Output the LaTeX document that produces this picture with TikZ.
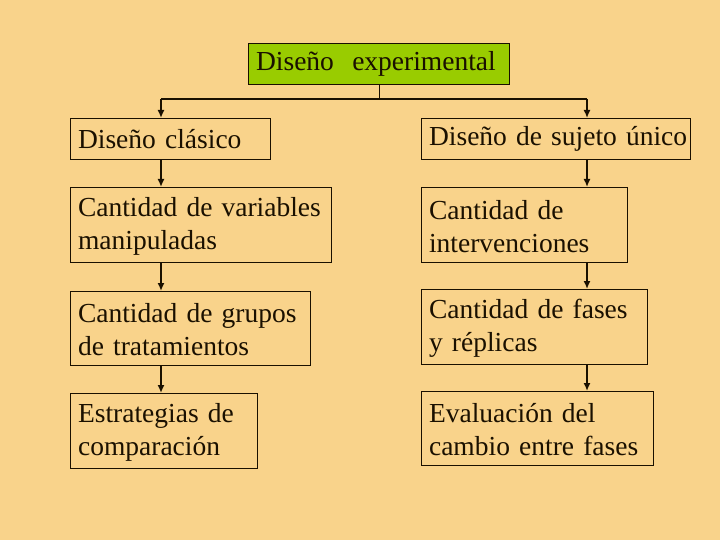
\documentclass[tikz,border=0pt]{standalone}
\usepackage{fontspec}
\setmainfont{Liberation Serif}
\usetikzlibrary{arrows.meta}
\definecolor{bg}{HTML}{F9D38B}
\definecolor{topgreen}{HTML}{99CC00}
\definecolor{ink}{HTML}{1A1000}
\tikzset{
  box/.style={draw=ink, line width=1.1pt, anchor=north west, inner xsep=7.5pt, inner ysep=0pt,
    align=left, text=ink, font=\fontsize{27.5}{33}\selectfont},
  arr/.style={draw=ink, line width=2pt, -{Latex[length=8pt,width=7pt]}},
  ln/.style={draw=ink, line width=1pt}
}
\hbadness=10000 \hfuzz=100pt
\newcommand{\bx}[7]{% name, x, y, w, h, text, extra
  \node[box, minimum width=#4pt, minimum height=#5pt, text width=#4pt-15pt, #7] (#1) at (#2,#3) {#6};}
\begin{document}
\begin{tikzpicture}[x=1pt,y=-1pt]
\useasboundingbox (0,0) rectangle (720,540);
\fill[bg] (0,0) rectangle (720,540);
\bx{top}{248}{43}{261}{41}{\mbox{Diseño\ \ experimental}}{fill=topgreen}
\bx{l1}{70}{118}{200}{41}{\mbox{Diseño clásico}}{}
\bx{l2}{70}{187}{261}{75}{\mbox{Cantidad de variables}\\\mbox{manipuladas}}{text height=22pt}
\bx{l3}{70}{291}{240}{74}{\mbox{Cantidad de grupos}\\\mbox{de tratamientos}}{text height=22pt}
\bx{l4}{70}{393}{187}{75}{\mbox{Estrategias de}\\\mbox{comparación}}{text height=22pt}
\bx{r1}{421}{118}{269}{41}{\mbox{Diseño de sujeto único}}{}
\bx{r2}{421}{187}{206}{75}{\mbox{Cantidad de}\\\mbox{intervenciones}}{text height=22pt}
\bx{r3}{421}{289}{226}{75}{\mbox{Cantidad de fases}\\\mbox{y réplicas}}{text height=22pt}
\bx{r4}{421}{391}{232}{74}{\mbox{Evaluación del}\\\mbox{cambio entre fases}}{text height=22pt}
\coordinate (busL) at (161,99);
\coordinate (busR) at (587,99);
\draw[ln] (top.south) -- (top.south |- busL);
\draw[ln, line width=2pt] (busL) -- (busR);
\draw[arr] (busL) -- (l1.north -| busL);
\draw[arr] (busR) -- (r1.north -| busR);
\draw[arr] (l1.south -| busL) -- (l2.north -| busL);
\draw[arr] (l2.south -| busL) -- (l3.north -| busL);
\draw[arr] (l3.south -| busL) -- (l4.north -| busL);
\draw[arr] (r1.south -| busR) -- (r2.north -| busR);
\draw[arr] (r2.south -| busR) -- (r3.north -| busR);
\draw[arr] (r3.south -| busR) -- (r4.north -| busR);
\end{tikzpicture}
\end{document}
